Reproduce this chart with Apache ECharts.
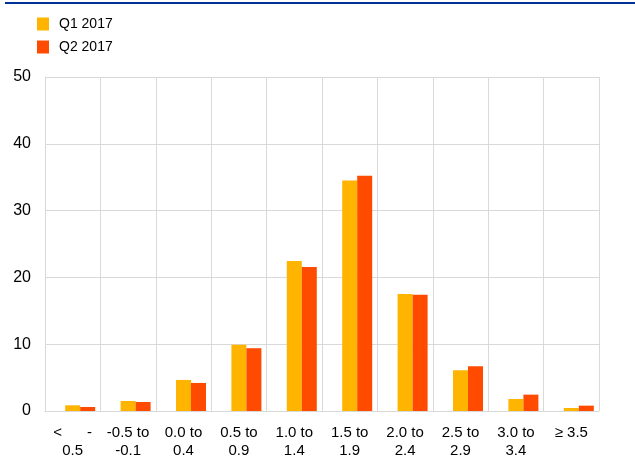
<!DOCTYPE html>
<html>
<head>
<meta charset="utf-8">
<script src="https://cdn.jsdelivr.net/npm/echarts@6/dist/echarts.min.js"></script>
<style>
  html, body { margin: 0; padding: 0; background: #fff; }
  #chart { width: 635px; height: 471px; }
</style>
</head>
<body>
<div id="chart"></div>
<script>
// categories (percentage ranges)
var categories = ['<      -\n0.5', '-0.5 to\n-0.1', '0.0 to\n0.4', '0.5 to\n0.9', '1.0 to\n1.4',
  '1.5 to\n1.9', '2.0 to\n2.4', '2.5 to\n2.9', '3.0 to\n3.4', '≥ 3.5'];
// series values
var q1_2017 = [0.85, 1.5, 4.65, 9.9, 22.45, 34.5, 17.5, 6.1, 1.8, 0.45];
var q2_2017 = [0.6, 1.35, 4.2, 9.4, 21.55, 35.2, 17.4, 6.7, 2.45, 0.8];
var seriesNames = ['Q1 2017', 'Q2 2017'];
var colors = ['#FFB400', '#FF4B00'];

var chart = echarts.init(document.getElementById('chart'));
var font = 'Liberation Sans, Arial, sans-serif';

var option = {
  animation: false,
  graphic: [{
    type: 'rect',
    shape: { x: 5, y: 2, width: 630, height: 2 },
    style: { fill: '#003299' }
  }],
  legend: {
    orient: 'vertical',
    left: 32,
    top: 12,
    itemWidth: 12,
    itemHeight: 13,
    itemGap: 9,
    icon: 'rect',
    textStyle: { fontFamily: font, fontSize: 14, color: '#000', padding: [0, 0, 0, 5] },
    data: seriesNames
  },
  grid: { left: 45, right: 36, top: 77, bottom: 60 },
  xAxis: {
    type: 'category',
    data: categories,
    axisLine: { lineStyle: { color: '#d9d9d9', width: 1 } },
    axisTick: { show: false },
    splitLine: { show: true, lineStyle: { color: '#d9d9d9' } },
    axisLabel: {
      interval: 0, fontFamily: font, fontSize: 15, color: '#000',
      lineHeight: 18, margin: 13
    }
  },
  yAxis: {
    type: 'value',
    min: 0, max: 50, interval: 10,
    axisLine: { show: true, lineStyle: { color: '#d9d9d9' } },
    axisTick: { show: false },
    splitLine: { lineStyle: { color: '#d9d9d9' } },
    axisLabel: { fontFamily: font, fontSize: 16, color: '#000', margin: 14 }
  },
  series: [
    // empty slot so the Q1 bar sits on the category centre, as in the original
    { name: 'pad', type: 'bar', data: [], barWidth: 15, barGap: '0%' },
    { name: seriesNames[0], type: 'bar', data: q1_2017, barWidth: 15, barGap: '0%', itemStyle: { color: colors[0] } },
    { name: seriesNames[1], type: 'bar', data: q2_2017, barWidth: 15, barGap: '0%', itemStyle: { color: colors[1] } }
  ]
};
chart.setOption(option);
</script>
</body>
</html>
